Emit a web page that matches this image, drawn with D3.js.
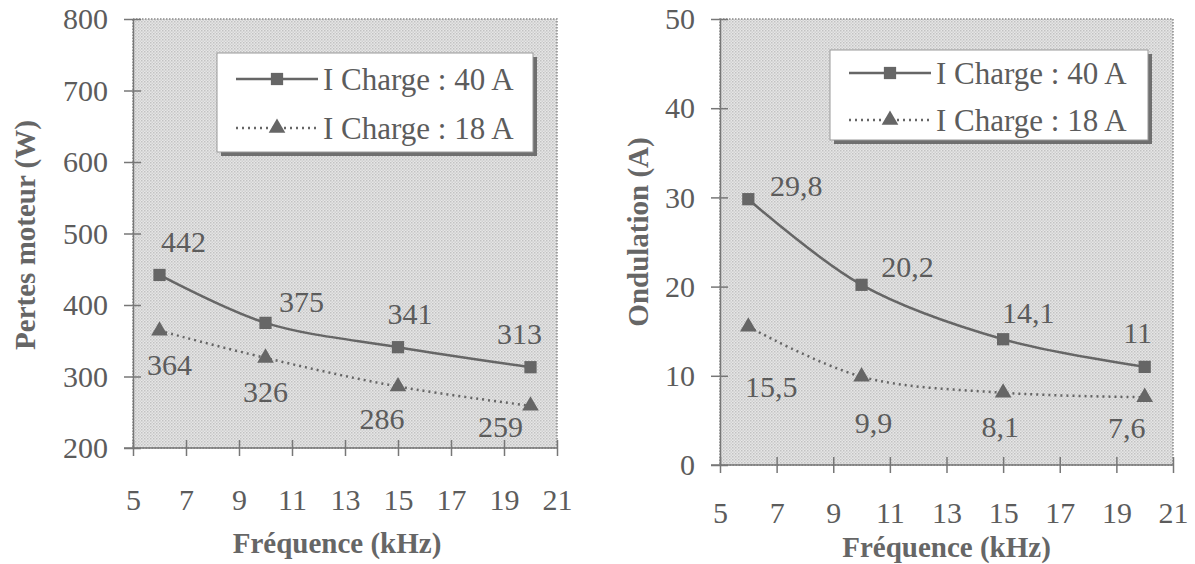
<!DOCTYPE html>
<html lang="fr">
  <head>
    <meta charset="utf-8">
    <title>Pertes moteur / Ondulation</title>
    <script type="text/javascript" src="https://cdn.jsdelivr.net/npm/d3@7"></script>
    <style type="text/css">
     body { margin: 0; background: #fff; }
     svg { display: block; font-family: "Liberation Serif", "DejaVu Serif", serif; }
     .tick text { fill: #5c5c5c; font-size: 30px; font-family: "Liberation Serif", serif; }
    </style>
  </head>
  <body>
    <script type="text/javascript">

     // data --------------------------------------------------------------
     let freqs = [6, 10, 15, 20];
     let seriesNames = ["I Charge : 40 A", "I Charge : 18 A"];

     let pertes40 = [442, 375, 341, 313];
     let pertes18 = [364, 326, 286, 259];
     let pertesLabels40 = ["442", "375", "341", "313"];
     let pertesLabels18 = ["364", "326", "286", "259"];

     let ond40 = [29.8, 20.2, 14.1, 11];
     let ond18 = [15.5, 9.9, 8.1, 7.6];
     let ondLabels40 = ["29,8", "20,2", "14,1", "11"];
     let ondLabels18 = ["15,5", "9,9", "8,1", "7,6"];

     let xTicks = [5, 7, 9, 11, 13, 15, 17, 19, 21];
     let pertesTicks = [200, 300, 400, 500, 600, 700, 800];
     let ondTicks = [0, 10, 20, 30, 40, 50];

     let ink = "#5c5c5c";
     let lineCol = "#666";

     let svg = d3.select("body").append("svg")
		 .attr("width", 1195)
		 .attr("height", 564);

     // dotted grey fill of the plot area
     let defs = svg.append("defs");
     let pat = defs.append("pattern")
		   .attr("id", "dots")
		   .attr("width", 3).attr("height", 3)
		   .attr("patternUnits", "userSpaceOnUse");
     pat.append("rect").attr("width", 3).attr("height", 3).attr("fill", "#e6e6e6");
     pat.append("rect").attr("width", 1.5).attr("height", 1.5).attr("fill", "#c2c2c2");
     pat.append("rect").attr("x", 1.5).attr("y", 1.5).attr("width", 1.5).attr("height", 1.5).attr("fill", "#d0d0d0");

     function drawChart(cfg) {
       let g = svg.append("g");
       let x = d3.scaleLinear().domain([5, 21]).range([cfg.left, cfg.right]);
       let y = d3.scaleLinear().domain(cfg.yDomain).range([cfg.bottom, cfg.top]);

       g.append("rect")
	.attr("x", cfg.left).attr("y", cfg.top)
	.attr("width", cfg.right - cfg.left)
	.attr("height", cfg.bottom - cfg.top)
	.attr("fill", "url(#dots)")
	.attr("stroke", "#8a8a8a")
	.attr("stroke-width", 1.5)
	.attr("stroke-dasharray", "1.5,1.5");

       // axes, ticks cross the axis line
       let yAxis = g.append("g")
		    .attr("transform", "translate(" + cfg.left + ",0)")
		    .call(d3.axisLeft(y).tickValues(cfg.yTicks).tickSizeInner(9).tickSizeOuter(0).tickPadding(16));
       yAxis.selectAll(".tick line").attr("x1", 8);
       let xAxis = g.append("g")
		    .attr("transform", "translate(0," + cfg.bottom + ")")
		    .call(d3.axisBottom(x).tickValues(xTicks).tickSizeInner(8).tickSizeOuter(0).tickPadding(cfg.xPad));
       xAxis.selectAll(".tick line").attr("y1", -8);
       xAxis.select(".domain").attr("d", "M" + (cfg.left - 9) + ",0H" + cfg.right);
       [yAxis, xAxis].forEach(a => {
	 a.attr("font-family", null).attr("font-size", null);
	 a.selectAll("line, path").attr("stroke", "#777").attr("stroke-width", 1.5);
	 a.selectAll("text").attr("fill", ink);
       });

       // axis titles
       g.append("text")
	.attr("x", (cfg.left + cfg.right) / 2 + cfg.xTitleDx)
	.attr("y", cfg.xTitleY)
	.attr("text-anchor", "middle")
	.attr("font-weight", "bold")
	.attr("font-size", 29)
	.attr("fill", "#666")
	.text("Fréquence (kHz)");
       g.append("text")
	.attr("transform", "translate(" + cfg.yTitleX + "," + cfg.yTitleY + ") rotate(-90)")
	.attr("text-anchor", "middle")
	.attr("font-weight", "bold")
	.attr("font-size", 29)
	.attr("fill", "#666")
	.text(cfg.yTitle);

       let line = d3.line()
		    .x((d, i) => x(freqs[i]))
		    .y(d => y(d))
		    .curve(d3.curveCatmullRom.alpha(0.5));

       cfg.series.forEach((s, si) => {
	 g.append("path")
	  .attr("d", line(s.values))
	  .attr("fill", "none")
	  .attr("stroke", lineCol)
	  .attr("stroke-width", 2.5)
	  .attr("stroke-dasharray", si === 0 ? null : "2,4");

	 g.selectAll(".m" + si)
	  .data(s.values)
	  .enter()
	  .append("path")
	  .attr("transform", (d, i) => "translate(" + x(freqs[i]) + "," + y(d) + ")")
	  .attr("d", d3.symbol().type(si === 0 ? d3.symbolSquare : d3.symbolTriangle).size(si === 0 ? 150 : 120))
	  .attr("fill", lineCol);

	 g.selectAll(".l" + si)
	  .data(s.values)
	  .enter()
	  .append("text")
	  .attr("x", (d, i) => x(freqs[i]) + s.offsets[i][0])
	  .attr("y", (d, i) => y(d) + s.offsets[i][1])
	  .attr("text-anchor", "middle")
	  .attr("dominant-baseline", "central")
	  .attr("font-size", 30)
	  .attr("fill", ink)
	  .text((d, i) => s.labels[i]);
       });

       // legend
       let L = cfg.legend;
       g.append("rect")
	.attr("x", L.x + 4).attr("y", L.y + 4)
	.attr("width", L.w).attr("height", L.h)
	.attr("fill", "#6f6f6f");
       g.append("rect")
	.attr("x", L.x).attr("y", L.y)
	.attr("width", L.w).attr("height", L.h)
	.attr("fill", "#fff")
	.attr("stroke", "#999")
	.attr("stroke-width", 1);
       seriesNames.forEach((name, si) => {
	 let ly = L.y + L.rows[si];
	 g.append("line")
	  .attr("x1", L.x + 19).attr("x2", L.x + 101)
	  .attr("y1", ly).attr("y2", ly)
	  .attr("stroke", lineCol)
	  .attr("stroke-width", 2.5)
	  .attr("stroke-dasharray", si === 0 ? null : "2,4");
	 g.append("path")
	  .attr("transform", "translate(" + (L.x + 60) + "," + ly + ")")
	  .attr("d", d3.symbol().type(si === 0 ? d3.symbolSquare : d3.symbolTriangle).size(si === 0 ? 150 : 120))
	  .attr("fill", lineCol);
	 g.append("text")
	  .attr("x", L.x + 106)
	  .attr("y", ly)
	  .attr("dominant-baseline", "central")
	  .attr("font-size", 31)
	  .attr("fill", ink)
	  .text(name);
       });
     }

     drawChart({
       left: 133, right: 557, top: 19, bottom: 448,
       yDomain: [200, 800], yTicks: pertesTicks,
       xPad: 33, xTitleY: 553, xTitleDx: -8,
       yTitle: "Pertes moteur (W)", yTitleX: 35, yTitleY: 235,
       legend: {x: 217, y: 53, w: 316, h: 99, rows: [26, 75]},
       series: [
	 {values: pertes40, labels: pertesLabels40,
	  offsets: [[24, -33], [36, -21], [12, -34], [-11, -34]]},
	 {values: pertes18, labels: pertesLabels18,
	  offsets: [[10, 34], [0, 34], [-16, 32], [-30, 21]]}
       ]
     });

     drawChart({
       left: 720, right: 1173, top: 19, bottom: 465,
       yDomain: [0, 50], yTicks: ondTicks,
       xPad: 29, xTitleY: 557, xTitleDx: 0,
       yTitle: "Ondulation (A)", yTitleX: 648, yTitleY: 232,
       legend: {x: 830, y: 50, w: 318, h: 90, rows: [23, 70]},
       series: [
	 {values: ond40, labels: ondLabels40,
	  offsets: [[48, -14], [46, -18], [25, -27], [-7, -34]]},
	 {values: ond18, labels: ondLabels18,
	  offsets: [[23, 60], [12, 46], [-3, 34], [-18, 30]]}
       ]
     });
    </script>
  </body>
</html>
